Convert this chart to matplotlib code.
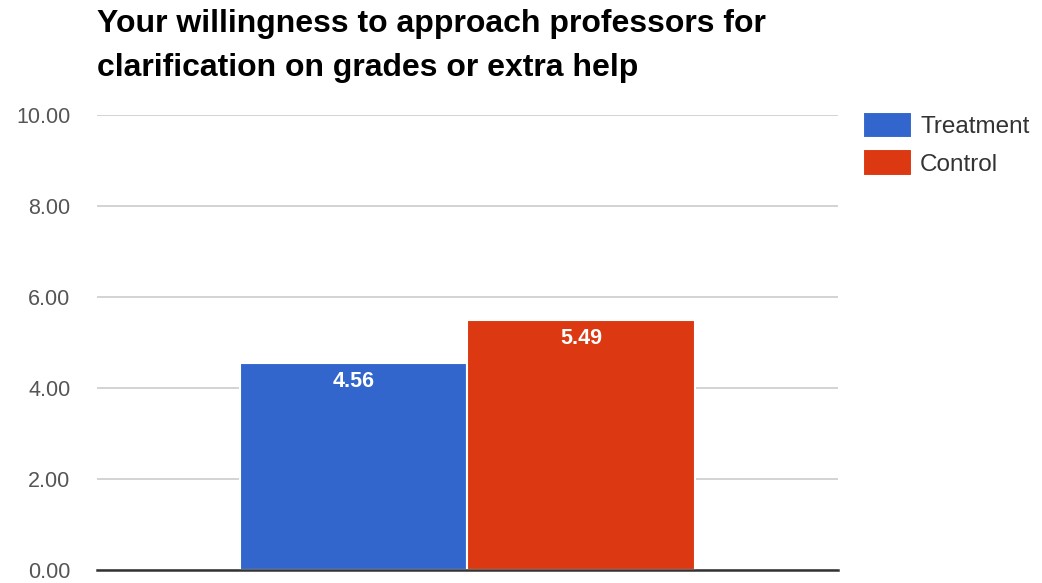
import numpy as np
import matplotlib.pyplot as plt

plt.rcParams['font.family'] = ['Liberation Sans', 'DejaVu Sans']

# data
series = ['Treatment', 'Control']
values = [4.56, 5.49]
colors = ['#3366cc', '#dc3912']
yticks = [0, 2, 4, 6, 8, 10]

fig = plt.figure(figsize=(10.42, 5.83), dpi=100)
ax = fig.add_axes([0.0931, 0.0223, 0.7109, 0.7804])

width = 0.307
offsets = [-width / 2, width / 2]
for name, val, col, off in zip(series, values, colors, offsets):
    ax.bar(off, val, width=width, color=col, edgecolor='white', linewidth=1.5,
           label=name, zorder=3)
    ax.annotate(f'{val:.2f}', (off, val), xytext=(0, -8), textcoords='offset pixels',
                ha='center', va='top', color='white', fontsize=15.5,
                fontweight='bold', zorder=4)

ax.set_xlim(-0.5, 0.5)
ax.set_ylim(0, 10)
ax.set_yticks(yticks)
ax.set_yticklabels([f'{t:.2f}' for t in yticks], color='#555555', fontsize=15.5)
ax.set_xticks([])
ax.grid(axis='y', color='#cccccc', linewidth=1.2, zorder=0)
for s in ['top', 'right', 'left']:
    ax.spines[s].set_visible(False)
ax.spines['bottom'].set_color('#333333')
ax.spines['bottom'].set_linewidth(1.8)
ax.spines['bottom'].set_zorder(5)
ax.tick_params(axis='y', length=0, pad=19)

fig.text(0.093, 0.985, 'Your willingness to approach professors for\nclarification on grades or extra help',
         ha='left', va='top', fontsize=23, fontweight='bold', linespacing=1.6)

ax.legend(loc='upper left', bbox_to_anchor=(1.034, 1.007), frameon=False,
          fontsize=17.5, handlelength=2.0, handleheight=1.3, labelspacing=0.45,
          handletextpad=0.35, borderpad=0, borderaxespad=0, labelcolor='#333333')

fig.savefig('out.png', dpi=100)
